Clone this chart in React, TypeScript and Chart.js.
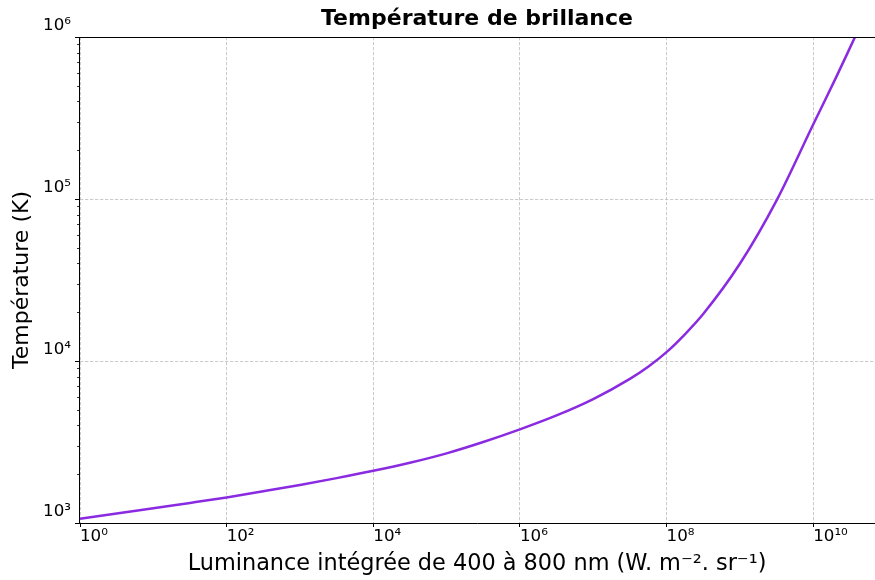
import React, { useEffect, useRef } from 'react';
import { Chart, registerables } from 'chart.js';

Chart.register(...registerables);

// Luminance intégrée (W.m^-2.sr^-1)
const luminance = [
  1, 3.16, 10, 31.6, 100, 316, 1000, 3160, 1e4, 3.16e4, 1e5, 3.16e5, 1e6,
  3.16e6, 1e7, 3.16e7, 5.62e7, 1e8, 1.78e8, 3.16e8, 1e9, 3.16e9, 1e10, 2e10, 3.72e10,
];
// Température de brillance (K)
const temperature = [
  1062, 1143, 1233, 1330, 1439, 1570, 1718, 1892, 2099, 2355, 2692, 3162,
  3784, 4613, 5821, 7762, 9226, 11350, 14622, 19498, 39811, 97724, 288403, 549541, 1000000,
];

const xTickValues = [1, 1e2, 1e4, 1e6, 1e8, 1e10];
const xTickLabels = ['10⁰', '10²', '10⁴', '10⁶', '10⁸', '10¹⁰'];
const yTickValues = [1e3, 1e4, 1e5, 1e6];
const yTickLabels = ['10³', '10⁴', '10⁵', '10⁶'];
const yMinorTicks = [
  2e3, 3e3, 4e3, 5e3, 6e3, 7e3, 8e3, 9e3,
  2e4, 3e4, 4e4, 5e4, 6e4, 7e4, 8e4, 9e4,
  2e5, 3e5, 4e5, 5e5, 6e5, 7e5, 8e5, 9e5,
];

const X_MIN = 0.969;
const X_MAX = 6.97e10;
const Y_MIN = 1e3;
const Y_MAX = 1e6;

const FONT = 'DejaVu Sans';
const GRID_COLOR = '#bdbdbd';

const spinePlugin = {
  id: 'spinesAndMinor',
  afterDraw(chart: any) {
    const { ctx, chartArea, scales } = chart;
    ctx.save();
    ctx.strokeStyle = '#000';
    ctx.lineWidth = 1;
    ctx.setLineDash([]);
    // top spine
    ctx.beginPath();
    ctx.moveTo(chartArea.left, chartArea.top + 0.5);
    ctx.lineTo(chartArea.right, chartArea.top + 0.5);
    ctx.stroke();
    // minor ticks on the y axis
    const y = scales.y;
    ctx.lineWidth = 0.8;
    for (const v of yMinorTicks) {
      const py = Math.round(y.getPixelForValue(v)) + 0.5;
      ctx.beginPath();
      ctx.moveTo(chartArea.left - 2, py);
      ctx.lineTo(chartArea.left, py);
      ctx.stroke();
    }
    ctx.restore();
  },
};

export default function App() {
  const canvasRef = useRef<HTMLCanvasElement | null>(null);

  useEffect(() => {
    if (!canvasRef.current) return;
    Chart.defaults.font.family = FONT;
    const points = luminance.map((x, i) => ({ x, y: temperature[i] }));
    const gridOpts = {
      color: GRID_COLOR,
      lineWidth: 0.8,
      drawTicks: true,
      tickLength: 4,
      tickColor: '#000',
      tickWidth: 1,
      tickBorderDash: [],
    };
    const borderOpts = { display: true, color: '#000', width: 1, dash: [3.3, 1.7] };
    const chart = new Chart(canvasRef.current, {
      type: 'line',
      data: {
        datasets: [
          {
            data: points,
            borderColor: '#8a2be2',
            borderWidth: 2.5,
            pointRadius: 0,
            fill: false,
            cubicInterpolationMode: 'monotone',
          },
        ],
      },
      options: {
        animation: false,
        responsive: false,
        devicePixelRatio: 1,
        layout: { padding: 0 },
        plugins: {
          legend: { display: false },
          tooltip: { enabled: false },
          title: {
            display: true,
            text: 'Température de brillance',
            color: '#000',
            fullSize: false,
            font: { family: FONT, size: 22, weight: 'bold' },
            padding: { top: 6.2, bottom: 4.4 },
          },
        },
        scales: {
          x: {
            type: 'logarithmic',
            min: X_MIN,
            max: X_MAX,
            afterBuildTicks: (scale: any) => {
              scale.ticks = xTickValues.map((value) => ({ value }));
            },
            afterFit: (scale: any) => {
              scale.height = 57;
            },
            ticks: {
              autoSkip: false,
              maxRotation: 0,
              align: 'start',
              color: '#000',
              font: { family: FONT, size: 16.7 },
              padding: 0,
              callback: (value: any) => {
                const i = xTickValues.indexOf(Number(value));
                return i >= 0 ? xTickLabels[i] : '';
              },
            },
            grid: gridOpts,
            border: borderOpts,
            title: {
              display: true,
              text: 'Luminance intégrée de 400 à 800 nm (W. m⁻². sr⁻¹)',
              color: '#000',
              font: { family: FONT, size: 22.4 },
              padding: { top: 0, bottom: 2.4 },
            },
          },
          y: {
            type: 'logarithmic',
            min: Y_MIN,
            max: Y_MAX,
            afterBuildTicks: (scale: any) => {
              scale.ticks = yTickValues.map((value) => ({ value }));
            },
            afterFit: (scale: any) => {
              scale.width = 79;
            },
            ticks: {
              autoSkip: false,
              color: '#000',
              font: { family: FONT, size: 16.7 },
              padding: 4,
              labelOffset: -11,
              callback: (value: any) => {
                const i = yTickValues.indexOf(Number(value));
                return i >= 0 ? yTickLabels[i] : '';
              },
            },
            grid: gridOpts,
            border: borderOpts,
            title: {
              display: true,
              text: 'Température (K)',
              color: '#000',
              font: { family: FONT, size: 22 },
              padding: { top: 9.2, bottom: 0 },
            },
          },
        },
      },
      plugins: [spinePlugin],
    } as any);
    return () => chart.destroy();
  }, []);

  return (
    <div style={{ position: 'fixed', left: 0, top: 0, width: 875, height: 580, background: '#fff' }}>
      <canvas ref={canvasRef} width={875} height={580} style={{ display: 'block' }} />
    </div>
  );
}
